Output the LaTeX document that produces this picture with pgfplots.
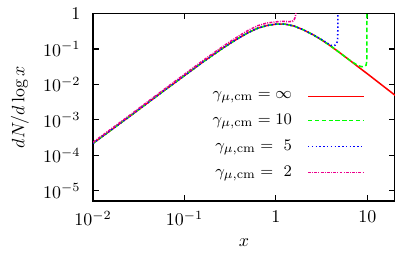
\documentclass[border=0pt]{standalone}
\usepackage{pgfplots}
\pgfplotsset{compat=1.18}
\newcommand{\lf}{\fontsize{9.3}{11}\selectfont}
\begin{document}
\begin{tikzpicture}
\begin{axis}[
  at={(0,0)}, anchor=south west,
  scale only axis, width=167.8bp, height=104.2bp,
  xmode=log, ymode=log,
  xmin=0.01, xmax=20, ymin=5.2e-6, ymax=1,
  xtick={0.01,0.1,1,10}, xticklabels={$10^{-2}$,$10^{-1}$,$1$,$10$},
  ytick={1e-5,1e-4,1e-3,1e-2,1e-1,1},
  yticklabels={$10^{-5}$,$10^{-4}$,$10^{-3}$,$10^{-2}$,$10^{-1}$,$1$},
  every minor tick/.append style={draw=none},
  tick align=inside, major tick length=3.3bp,
  axis line style={line width=0.6bp},
  every tick/.append style={line width=0.6bp, black},
  xticklabel style={yshift=-2bp},
  yticklabel style={xshift=-3.5bp},
  every axis x label/.style={at={(axis description cs:0.5,0)}, anchor=center, yshift=-23.3bp},
  every axis y label/.style={at={(axis description cs:-0.2425,0.5)}, anchor=center, rotate=90},
  xlabel={$x$}, ylabel={$dN/d\log x$},
  legend style={draw=none, fill=none, at={(0.9007,0.605)}, anchor=north east, inner sep=0pt, row sep=3.2bp,
    /tikz/every odd column/.append style={column sep=6.5bp}},
  legend cell align=right,
  legend plot pos=right,
  legend image code/.code={\draw[#1] (0bp,0bp) -- (31bp,0bp);},
]
\addplot[red, line width=0.85bp] coordinates {
(0.01,2.188e-4)(0.015849,5.248e-4)(0.025119,1.259e-3)(0.039811,3.055e-3)(0.063096,7.413e-3)
(0.1,1.778e-2)(0.12589,2.754e-2)(0.15849,4.266e-2)(0.19953,6.457e-2)(0.25119,9.772e-2)
(0.31623,0.1445)(0.39811,0.2089)(0.50119,0.2917)(0.63096,0.3846)(0.79433,0.4571)
(1,0.5012)(1.2589,0.5012)(1.5849,0.4416)(1.9953,0.3467)(2.5119,0.2570)
(3.1623,0.1799)(3.9811,0.1202)(5.0119,0.07762)(6.3096,0.04955)(7.9433,0.03126)
(10,0.01995)(12.589,0.01259)(15.849,0.007943)(19.953,0.005012)(20.5,0.004732)};
\addlegendentry{\lf $\gamma_{\mu,\rm cm} = \infty$}
\addplot[green, line width=0.85bp, dash pattern=on 2.4bp off 1.4bp] coordinates {
(0.01,2.188e-4)(0.015849,5.248e-4)(0.025119,1.259e-3)(0.039811,3.055e-3)(0.063096,7.413e-3)
(0.1,1.778e-2)(0.12589,2.754e-2)(0.15849,4.266e-2)(0.19953,6.457e-2)(0.25119,9.772e-2)
(0.31623,0.1445)(0.39811,0.2089)(0.50119,0.2917)(0.63096,0.3846)(0.79433,0.4571)
(1,0.5012)(1.2589,0.5012)(1.5849,0.4416)(1.9953,0.3467)(2.5119,0.2570)
(3.1623,0.1799)(3.9811,0.1202)(5.0119,0.07762)(6.3096,0.04955)(7.079,0.04074)
(7.943,0.03388)(8.710,0.03162)(9.226,0.0324)(9.661,0.0347)(9.84,0.0447)(9.87,0.16)(9.88,2)};
\addlegendentry{\lf $\gamma_{\mu,\rm cm} = 10$}
\addplot[blue, line width=0.85bp, dash pattern=on 0.8bp off 1.3bp] coordinates {
(0.01,2.188e-4)(0.015849,5.248e-4)(0.025119,1.259e-3)(0.039811,3.055e-3)(0.063096,7.413e-3)
(0.1,1.778e-2)(0.12589,2.754e-2)(0.15849,4.266e-2)(0.19953,6.457e-2)(0.25119,9.772e-2)
(0.31623,0.1445)(0.39811,0.2089)(0.50119,0.2917)(0.63096,0.3846)(0.79433,0.4571)
(1,0.5012)(1.2589,0.5012)(1.5849,0.4416)(1.9953,0.3467)(2.5119,0.2570)
(3.1623,0.1841)(3.548,0.1531)(3.981,0.1274)(4.169,0.1230)(4.416,0.1274)
(4.60,0.1413)(4.70,0.166)(4.74,0.251)(4.75,2)};
\addlegendentry{\lf $\gamma_{\mu,\rm cm} = \ 5$}
\addplot[magenta, line width=0.85bp, dash pattern=on 1.6bp off 0.7bp on 0.5bp off 0.7bp] coordinates {
(0.01,2.344e-4)(0.015849,5.623e-4)(0.025119,1.349e-3)(0.039811,3.296e-3)(0.063096,8.035e-3)
(0.1,0.01936)(0.15849,0.04677)(0.25119,0.1084)(0.31623,0.1622)(0.39811,0.2371)
(0.50119,0.3388)(0.63096,0.4519)(0.79433,0.537)(1,0.5821)(1.122,0.5957)(1.2589,0.5957)
(1.4125,0.5916)(1.5136,0.6026)(1.5849,0.6761)(1.6218,0.7762)(1.652,0.955)(1.667,2)};
\addlegendentry{\lf $\gamma_{\mu,\rm cm} = \ 2$}
\end{axis}
\pgfresetboundingbox
\useasboundingbox (-51.7bp,-31.7bp) rectangle (174.5bp,111.7bp);
\end{tikzpicture}
\end{document}
